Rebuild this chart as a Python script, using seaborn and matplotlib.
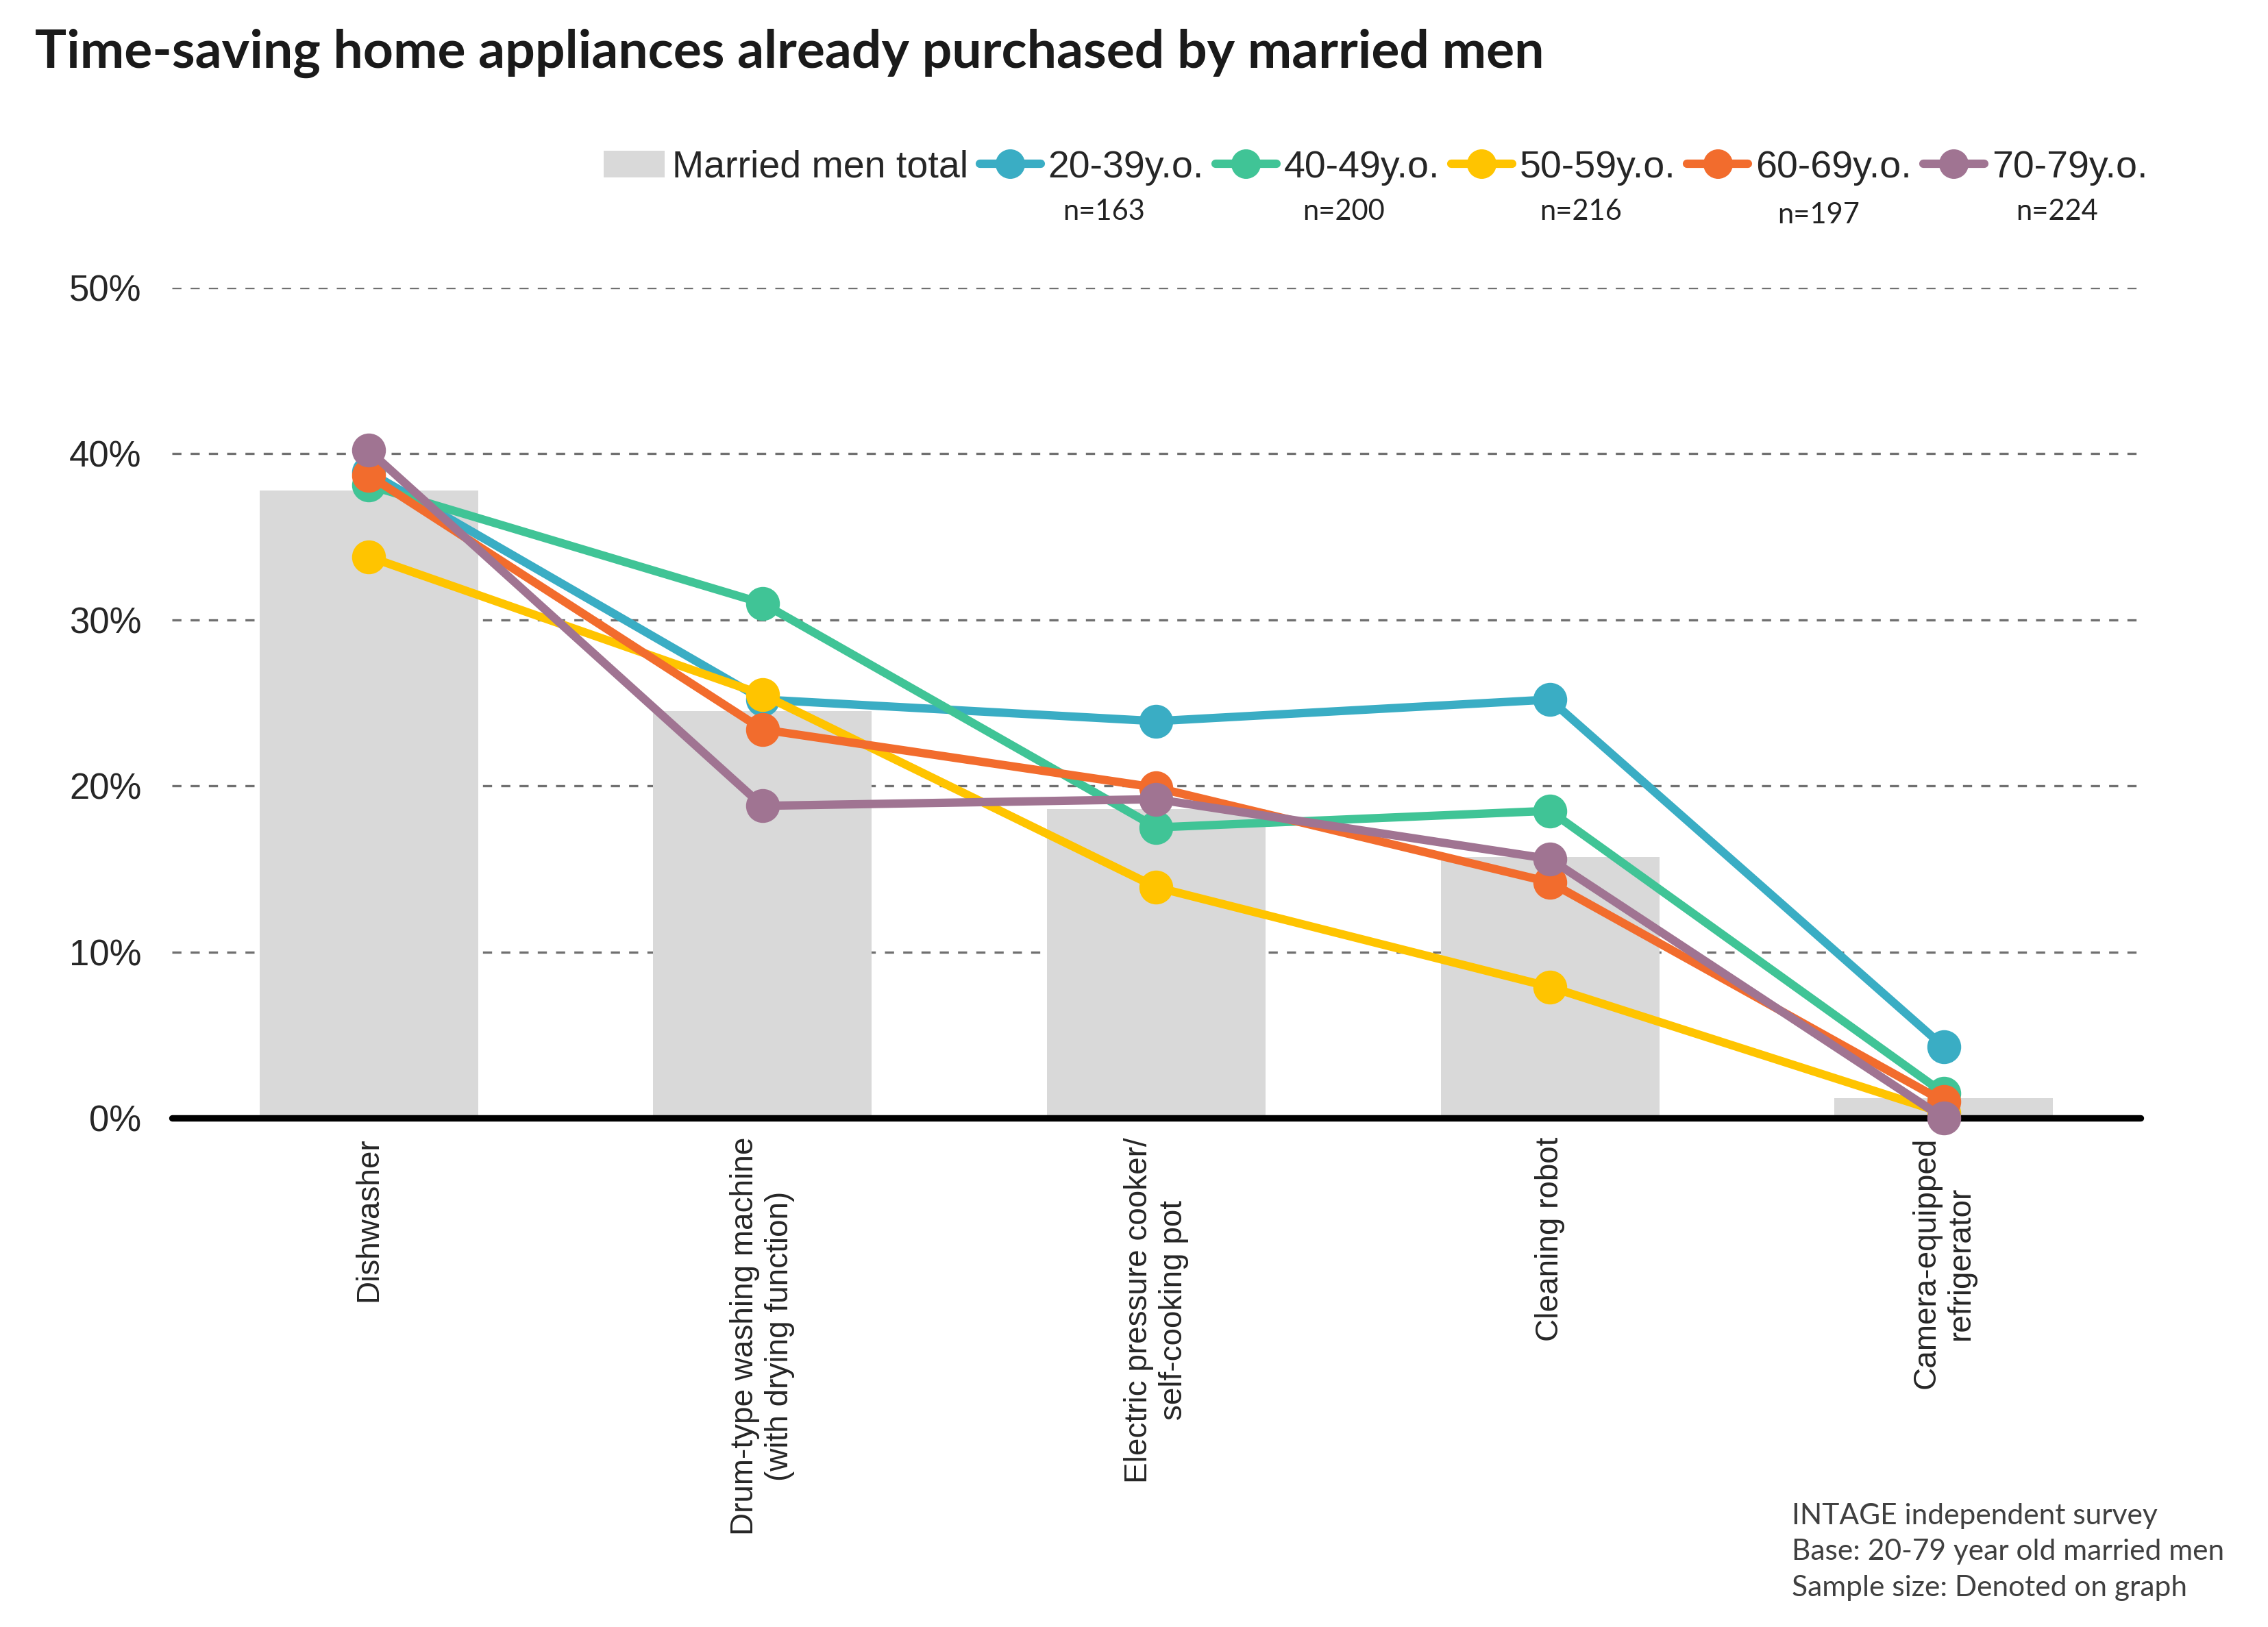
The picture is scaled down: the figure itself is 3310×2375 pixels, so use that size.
import matplotlib
matplotlib.use("Agg")
import matplotlib.pyplot as plt
import seaborn as sns
import pandas as pd
from matplotlib.patches import Patch
from matplotlib.lines import Line2D

# data (share of married men, %)
items = ["Dishwasher",
         "Drum-type washing machine\n(with drying function)",
         "Electric pressure cooker/\nself-cooking pot",
         "Cleaning robot",
         "Camera-equipped\nrefrigerator"]
total = [37.8, 24.5, 18.6, 15.7, 1.2]
ages = ["20-39y.o.", "40-49y.o.", "50-59y.o.", "60-69y.o.", "70-79y.o."]
sizes = ["n=163", "n=200", "n=216", "n=197", "n=224"]
age_20 = [38.9, 25.2, 23.9, 25.2, 4.3]
age_40 = [38.1, 31.0, 17.5, 18.5, 1.5]
age_50 = [33.8, 25.5, 13.9, 7.9, 0.3]
age_60 = [38.7, 23.4, 19.9, 14.2, 1.0]
age_70 = [40.2, 18.8, 19.2, 15.6, 0.0]

colors = ["#3AADC4", "#40C496", "#FFC400", "#F26C2D", "#A07492"]
bar_color = "#D9D9D9"
lw = 4.4
ms = 14.5

sns.set_theme(style="white")
plt.rcParams['font.family'] = ['Liberation Sans', 'DejaVu Sans']

bars = pd.DataFrame({"item": items, "value": total})
lines = pd.DataFrame({
    "item": items * 5,
    "age": [a for a in ages for _ in items],
    "value": age_20 + age_40 + age_50 + age_60 + age_70,
})

fig = plt.figure(figsize=(16.55, 11.875), dpi=200)
ax = fig.add_axes([0.0758, 0.3128, 0.868, 0.5104])

sns.barplot(data=bars, x="item", y="value", color=bar_color, width=0.555,
            linewidth=0, saturation=1, ax=ax, zorder=2)
sns.pointplot(data=lines, x="item", y="value", hue="age", palette=colors,
              markers="o", linestyles="-", markersize=ms, linewidth=lw,
              ax=ax, legend=False, zorder=3)
for ln in ax.lines:
    ln.set_linewidth(lw)
    ln.set_markersize(ms)
    ln.set_clip_on(False)

ax.set_xlim(-0.5, 4.5)
ax.set_ylim(0, 50)
ax.set_yticks([0, 10, 20, 30, 40, 50])
ax.set_yticklabels([f"{v}%" for v in [0, 10, 20, 30, 40, 50]], fontsize=19)
ax.set_xticks(range(5))
ax.set_xticklabels(items, rotation=90, fontsize=16.5, va="top", ha="center",
                   multialignment="center",
                   family=['Liberation Sans Narrow', 'Liberation Sans'])
ax.tick_params(axis="x", length=0, pad=10)
ax.tick_params(axis="y", length=0, pad=16)
ax.set_xlabel("")
ax.set_ylabel("")
for s in ax.spines.values():
    s.set_visible(False)
ax.grid(False)
for v in [10, 20, 30, 40, 50]:
    ax.axhline(v, color="#707070", linestyle=(0, (4, 4)), linewidth=1.2, zorder=1)
ax.axhline(0, color="black", linewidth=3.4, zorder=2.5, solid_capstyle="round",
           clip_on=False)

# legend
handles = [Patch(facecolor=bar_color, edgecolor="none", label="Married men total")]
for c, a in zip(colors, ages):
    handles.append(Line2D([0], [0], color=c, linewidth=lw, marker="o",
                          markersize=ms, label=a))
fig.legend(handles=handles, loc="center right", bbox_to_anchor=(0.962, 0.897),
           ncol=6, frameon=False, fontsize=20, handlelength=1.6,
           handletextpad=0.2, columnspacing=0.3)

nx = [0.4866, 0.5925, 0.6971, 0.8017, 0.9069]
ny = [0.870, 0.870, 0.870, 0.868, 0.870]
for x, y, s in zip(nx, ny, sizes):
    fig.text(x, y, s, ha="center", va="center", fontsize=15, family="Lato",
             color="#222222")

fig.text(0.0154, 0.967, "Time-saving home appliances already purchased by married men",
         ha="left", va="center", fontsize=27.7, fontweight="bold", family="Lato",
         color="#1a1a1a")

notes = ["INTAGE independent survey", "Base: 20-79 year old married men",
         "Sample size: Denoted on graph"]
for y, s in zip([0.0684, 0.0462, 0.0240], notes):
    fig.text(0.790, y, s, ha="left", va="center", fontsize=15.3, family="Lato",
             color="#404040")

fig.savefig("out.png", dpi=200)
